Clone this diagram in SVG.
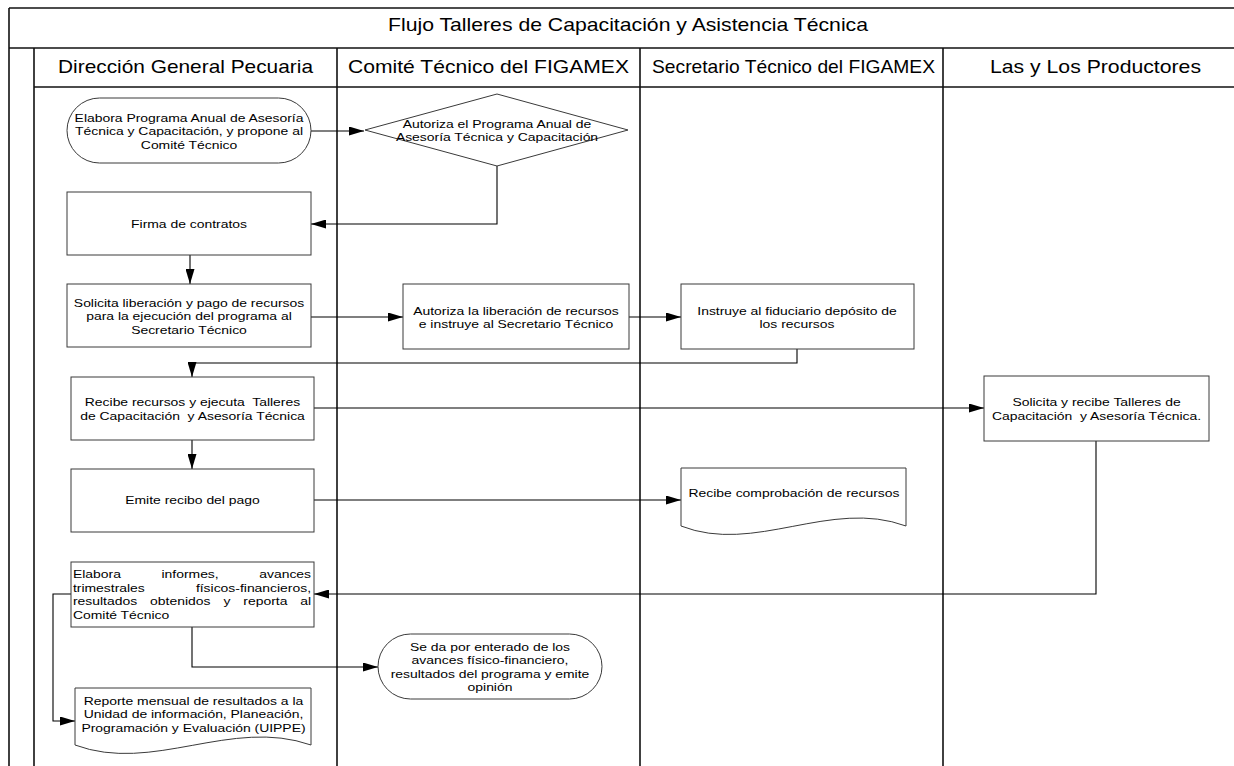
<svg xmlns="http://www.w3.org/2000/svg" width="1234" height="766" viewBox="0 0 1234 766">
<style>
.lane{stroke:#111;stroke-width:1.6;fill:none}
.node{fill:#fff;stroke:#3a3a3a;stroke-width:1}
.con{fill:none;stroke:#000;stroke-width:1.1}
.hd{font-family:"Liberation Sans",Arial,sans-serif;font-size:17.7px;fill:#000}
.t{font-family:"Liberation Sans",Arial,sans-serif;font-size:11.6px;fill:#000;white-space:pre}
</style>
<defs>
<marker id="ah" markerUnits="userSpaceOnUse" markerWidth="15" markerHeight="9" refX="15" refY="4.5" orient="auto">
<path d="M0,0 L15,4.5 L0,9 z" fill="#000"/>
</marker>
</defs>
<g id="swimlanes">
<line class="lane" x1="9" y1="8" x2="1234" y2="8"/>
<line class="lane" x1="9" y1="48" x2="1234" y2="48"/>
<line class="lane" x1="34" y1="87" x2="1234" y2="87"/>
<line class="lane" x1="9" y1="8" x2="9" y2="766"/>
<line class="lane" x1="34" y1="48" x2="34" y2="766"/>
<line class="lane" x1="337" y1="48" x2="337" y2="766"/>
<line class="lane" x1="640" y1="48" x2="640" y2="766"/>
<line class="lane" x1="943" y1="48" x2="943" y2="766"/>
<text class="hd" x="388" y="31" textLength="480" lengthAdjust="spacingAndGlyphs">Flujo Talleres de Capacitación y Asistencia Técnica</text>
<text class="hd" x="58" y="72.5" textLength="255" lengthAdjust="spacingAndGlyphs">Dirección General Pecuaria</text>
<text class="hd" x="348" y="72.5" textLength="281" lengthAdjust="spacingAndGlyphs">Comité Técnico del FIGAMEX</text>
<text class="hd" x="652" y="72.5" textLength="283" lengthAdjust="spacingAndGlyphs">Secretario Técnico del FIGAMEX</text>
<text class="hd" x="990" y="72.5" textLength="211" lengthAdjust="spacingAndGlyphs">Las y Los Productores</text>
</g>
<g id="connectors">
<path class="con" d="M311,131 H364" marker-end="url(#ah)"/>
<path class="con" d="M497,166 V224 H311" marker-end="url(#ah)"/>
<path class="con" d="M190,255 V284" marker-end="url(#ah)"/>
<path class="con" d="M311,317 H403" marker-end="url(#ah)"/>
<path class="con" d="M629,317 H681" marker-end="url(#ah)"/>
<path class="con" d="M797,349 V363 H192 V377" marker-end="url(#ah)"/>
<path class="con" d="M314,408 H984" marker-end="url(#ah)"/>
<path class="con" d="M192,440 V469" marker-end="url(#ah)"/>
<path class="con" d="M314,500 H681" marker-end="url(#ah)"/>
<path class="con" d="M1096,441 V594 H314" marker-end="url(#ah)"/>
<path class="con" d="M192,627 V667 H378" marker-end="url(#ah)"/>
<path class="con" d="M71,594 H53 V721 H75" marker-end="url(#ah)"/>
</g>
<g id="n1">
<rect class="node" x="67" y="98" width="244" height="65" rx="32.5"/>
<g transform="translate(189 0) scale(1.2 1)">
<text class="t" x="0" y="122" text-anchor="middle">Elabora Programa Anual de Asesoría</text>
<text class="t" x="0" y="135.5" text-anchor="middle">Técnica y Capacitación, y propone al</text>
<text class="t" x="0" y="149" text-anchor="middle">Comité Técnico</text>
</g>
</g>
<g id="n2">
<polygon class="node" points="497,94 628,130 497,166 365,130"/>
<g transform="translate(497 0) scale(1.2 1)">
<text class="t" x="0" y="128" text-anchor="middle">Autoriza el Programa Anual de</text>
<text class="t" x="0" y="141" text-anchor="middle">Asesoría Técnica y Capacitación</text>
</g>
</g>
<g id="n3">
<rect class="node" x="67" y="192" width="244" height="63"/>
<g transform="translate(189 0) scale(1.2 1)">
<text class="t" x="0" y="228" text-anchor="middle">Firma de contratos</text>
</g>
</g>
<g id="n4">
<rect class="node" x="67" y="284" width="244" height="63"/>
<g transform="translate(189 0) scale(1.2 1)">
<text class="t" x="0" y="307" text-anchor="middle">Solicita liberación y pago de recursos</text>
<text class="t" x="0" y="320.5" text-anchor="middle">para la ejecución del programa al</text>
<text class="t" x="0" y="334" text-anchor="middle">Secretario Técnico</text>
</g>
</g>
<g id="n5">
<rect class="node" x="403" y="284" width="226" height="65"/>
<g transform="translate(516 0) scale(1.2 1)">
<text class="t" x="0" y="315" text-anchor="middle">Autoriza la liberación de recursos</text>
<text class="t" x="0" y="328" text-anchor="middle">e instruye al Secretario Técnico</text>
</g>
</g>
<g id="n6">
<rect class="node" x="681" y="284" width="233" height="65"/>
<g transform="translate(797 0) scale(1.2 1)">
<text class="t" x="0" y="315" text-anchor="middle">Instruye al fiduciario depósito de</text>
<text class="t" x="0" y="328" text-anchor="middle">los recursos</text>
</g>
</g>
<g id="n7">
<rect class="node" x="71" y="377" width="243" height="63"/>
<g transform="translate(192.5 0) scale(1.2 1)">
<text class="t" x="0" y="406" text-anchor="middle">Recibe recursos y ejecuta  Talleres</text>
<text class="t" x="0" y="420" text-anchor="middle">de Capacitación  y Asesoría Técnica</text>
</g>
</g>
<g id="n8">
<rect class="node" x="984" y="376" width="225" height="65"/>
<g transform="translate(1096.5 0) scale(1.2 1)">
<text class="t" x="0" y="406" text-anchor="middle">Solicita y recibe Talleres de</text>
<text class="t" x="0" y="420" text-anchor="middle">Capacitación  y Asesoría Técnica.</text>
</g>
</g>
<g id="n9">
<rect class="node" x="71" y="469" width="243" height="63"/>
<g transform="translate(192.5 0) scale(1.2 1)">
<text class="t" x="0" y="504" text-anchor="middle">Emite recibo del pago</text>
</g>
</g>
<g id="n10">
<path class="node" d="M681,468 H906 V526 C830,498 755,555 681,526 Z"/>
<g transform="translate(794 0) scale(1.2 1)">
<text class="t" x="0" y="497" text-anchor="middle">Recibe comprobación de recursos</text>
</g>
</g>
<g id="n11">
<rect class="node" x="71" y="562" width="243" height="65"/>
<g transform="scale(1.2 1)">
<text class="t" x="60.8" y="578">Elabora</text>
<text class="t" x="134.6" y="578">informes,</text>
<text class="t" x="259.2" y="578" text-anchor="end">avances</text>
<text class="t" x="60.8" y="591.7">trimestrales</text>
<text class="t" x="259.2" y="591.7" text-anchor="end">físicos-financieros,</text>
<text class="t" x="60.8" y="605.4">resultados</text>
<text class="t" x="125.1" y="605.4">obtenidos</text>
<text class="t" x="186.2" y="605.4">y</text>
<text class="t" x="202.8" y="605.4">reporta</text>
<text class="t" x="259.2" y="605.4" text-anchor="end">al</text>
<text class="t" x="60.8" y="619">Comité Técnico</text>
</g>
</g>
<g id="n12">
<rect class="node" x="378" y="634" width="224" height="65" rx="32.5"/>
<g transform="translate(490 0) scale(1.2 1)">
<text class="t" x="0" y="651" text-anchor="middle">Se da por enterado de los</text>
<text class="t" x="0" y="664.5" text-anchor="middle">avances físico-financiero,</text>
<text class="t" x="0" y="678" text-anchor="middle">resultados del programa y emite</text>
<text class="t" x="0" y="691.5" text-anchor="middle">opinión</text>
</g>
</g>
<g id="n13">
<path class="node" d="M75,688 H311 V745 C231,717 153,774 75,745 Z"/>
<g transform="translate(193.5 0) scale(1.2 1)">
<text class="t" x="0" y="705" text-anchor="middle">Reporte mensual de resultados a la</text>
<text class="t" x="0" y="718.5" text-anchor="middle">Unidad de información, Planeación,</text>
<text class="t" x="0" y="732" text-anchor="middle">Programación y Evaluación (UIPPE)</text>
</g>
</g>
</svg>
